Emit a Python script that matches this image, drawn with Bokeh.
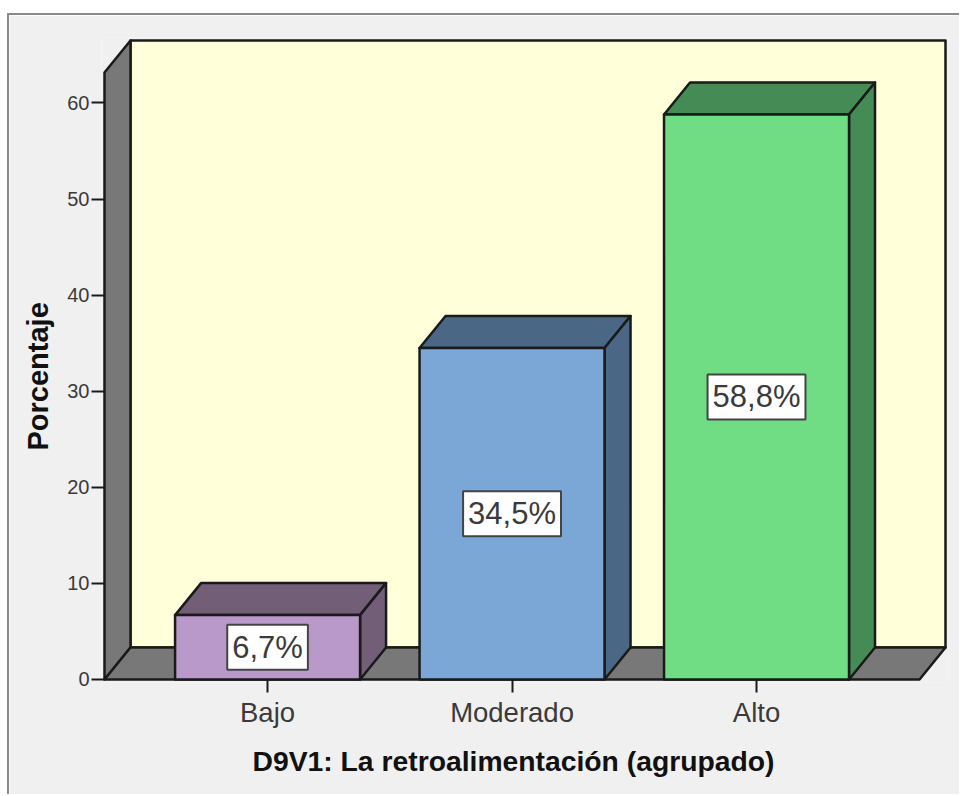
from bokeh.plotting import figure
from bokeh.models import Range1d, FixedTicker, Title
from bokeh.core.properties import value
from bokeh.embed import file_html
from bokeh.resources import INLINE

categories = ["Bajo", "Moderado", "Alto"]
percentages = [6.7, 34.5, 58.8]
data_labels = ["6,7%", "34,5%", "58,8%"]
y_ticks = [0, 10, 20, 30, 40, 50, 60]
x_title = "D9V1: La retroalimentación (agrupado)"
y_title = "Porcentaje"

front_colors = ["#B899C9", "#7BA7D6", "#70DC84"]
side_colors = ["#735E78", "#4A6885", "#458B55"]

FONT = "Liberation Sans"
INK = "#1a1a1a"
BG = "#F0F0F0"

# scale set-up
PX_X = 244.5
PX_Y = 9.608
XMIN, XMAX = -0.667, 2.773
YMAX = 66.5
DX, DY = 26 / PX_X, 32 / PX_Y
HALF = 92.5 / PX_X
FLOOR_END = XMAX - DX
PAD = 3  # px of room so that outer strokes are not clipped
PAD_X, PAD_Y = PAD / PX_X, PAD / PX_Y

p = figure(
    width=952, height=781, output_backend="svg", toolbar_location=None,
    x_range=Range1d(XMIN - PAD_X, XMAX + PAD_X), y_range=Range1d(-PAD_Y, YMAX + PAD_Y),
    min_border_left=92, min_border_right=13, min_border_top=22, min_border_bottom=114,
    background_fill_color=BG, border_fill_color=BG, outline_line_color=None,
)
p.styles = {"margin-left": "7px", "margin-top": "13px",
            "border-top": "2px solid #8a8a8a", "border-left": "2px solid #8a8a8a"}
p.grid.visible = False

# walls
W = dict(line_color=INK, line_width=2.5, line_join="round")
p.patch([XMIN + DX, XMAX, XMAX, XMIN + DX], [DY, DY, YMAX, YMAX], fill_color="#FFFFD9", **W)
p.patch([XMIN, XMIN + DX, XMIN + DX, XMIN], [0, DY, YMAX, YMAX - DY], fill_color="#787878", **W)
p.patch([XMIN, FLOOR_END, XMAX, XMIN + DX], [0, 0, DY, DY], fill_color="#787878", **W)

# bars
for i, v in enumerate(percentages):
    l, r = i - HALF, i + HALF
    p.patch([l, l + DX, r + DX, r], [v, v + DY, v + DY, v], fill_color=side_colors[i], **W)
    p.patch([r, r + DX, r + DX, r], [0, DY, v + DY, v], fill_color=side_colors[i], **W)
    p.patch([l, r, r, l], [0, 0, v, v], fill_color=front_colors[i], **W)

# data labels
p.text(
    x=list(range(3)), y=[v / 2 for v in percentages], text=data_labels,
    text_font=value(FONT), text_font_size="31px", text_color="#3a3a3a",
    text_align="center", text_baseline="middle",
    background_fill_color="white", border_line_color="#444444", border_line_width=2, padding=5,
)

# axes
p.yaxis.ticker = FixedTicker(ticks=y_ticks)
p.xaxis.ticker = FixedTicker(ticks=list(range(3)))
p.xaxis.major_label_overrides = {i: c for i, c in enumerate(categories)}
for ax in (p.xaxis[0], p.yaxis[0]):
    ax.axis_line_color = None
    ax.major_tick_line_color = INK
    ax.major_tick_line_width = 2
    ax.major_tick_out = 10
    ax.major_tick_in = 3
    ax.minor_tick_out = 0
    ax.minor_tick_in = 0
    ax.major_label_text_font = FONT
    ax.major_label_text_color = "#3a3a3a"
p.yaxis.major_label_text_font_size = "20px"
p.xaxis.major_label_text_font_size = "27.5px"
p.yaxis.major_label_standoff = 2
p.xaxis.major_label_standoff = 4

# axis titles as titles, which can sit off the frame's centre
T = dict(text_font=FONT, text_font_style="bold", text_color="#111111", align="left")
p.add_layout(Title(text=x_title, text_font_size="28.3px", offset=151, standoff=24, **T), "below")
p.add_layout(Title(text=y_title, text_font_size="29px", offset=232, standoff=21, **T), "left")

open("out.html", "w").write(file_html(p, INLINE))
